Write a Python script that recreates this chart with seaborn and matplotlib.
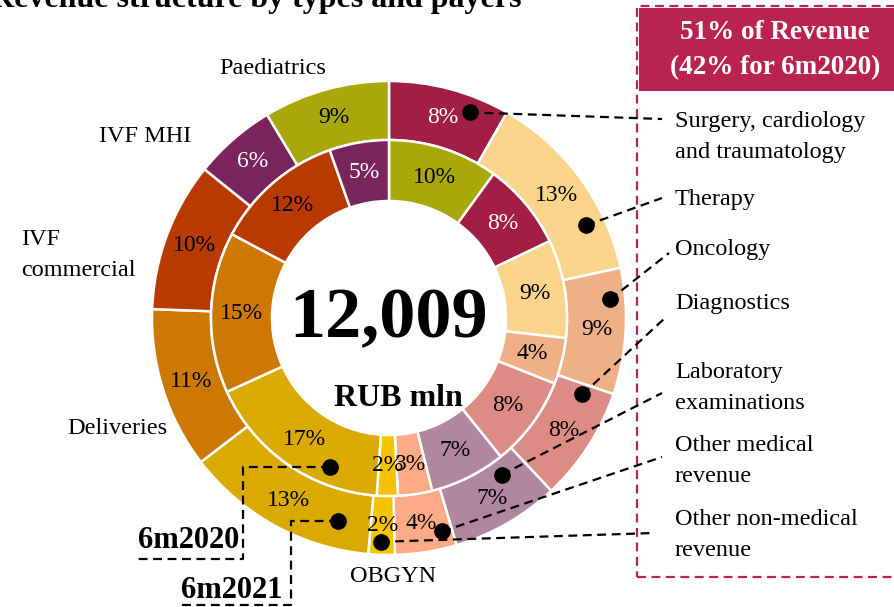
import numpy as np
import pandas as pd
import matplotlib
matplotlib.use("Agg")
import matplotlib.pyplot as plt
from matplotlib.patches import Rectangle
import seaborn as sns

# ---------------- data ----------------
categories = ["Surgery, cardiology\nand traumatology", "Therapy", "Oncology", "Diagnostics",
              "Laboratory\nexaminations", "Other medical\nrevenue", "Other non-medical\nrevenue",
              "OBGYN", "Deliveries", "IVF\ncommercial", "IVF MHI", "Paediatrics"]
share_6m2021 = [8.3, 13.3, 8.6, 7.8, 7.4, 4.2, 1.8, 13.2, 11.0, 10.2, 5.6, 8.6]
share_6m2020 = [7.9, 8.9, 4.2, 8.2, 6.9, 3.1, 1.9, 17.1, 14.6, 11.8, 5.4, 10.0]
total_revenue = "12,009"
unit_label = "RUB mln"
box_title = "51% of Revenue\n(42% for 6m2020)"
period_labels = ["6m2020", "6m2021"]
chart_title = "Revenue structure by types and payers"

palette = ["#A31E45", "#F9D48A", "#EFB088", "#DC8C84", "#AF879E", "#FDAA87",
           "#F6C300", "#DAAA00", "#CD7800", "#B93A00", "#7A245C", "#A8A80B"]
white_text = {"#A31E45", "#7A245C"}
CRIMSON = "#B8234F"

sns.set_theme(style="white")
plt.rcParams["font.family"] = ["Liberation Serif", "DejaVu Serif"]
plt.rcParams["text.color"] = "black"

W, H = 895, 607
fig = plt.figure(figsize=(W / 100, H / 100), dpi=100)
ax = fig.add_axes([0, 0, 1, 1])

def P(x, y):
    """image pixel coords -> data coords"""
    return (x, H - y)

cx, cy = P(389, 318)
R_out, R_mid, R_in = 237, 178, 117

df = pd.DataFrame({"cat": categories, "y2021": share_6m2021, "y2020": share_6m2020,
                   "color": list(sns.color_palette(palette).as_hex())})
df["color"] = palette
inner_df = pd.concat([df.iloc[[-1]], df.iloc[:-1]])  # inner ring starts with Paediatrics

wp = dict(edgecolor="white", linewidth=1.8)
w_out, _ = ax.pie(df["y2021"], colors=df["color"], radius=R_out, center=(cx, cy),
                  startangle=90, counterclock=False,
                  wedgeprops=dict(width=R_out - R_mid, **wp))
w_in, _ = ax.pie(inner_df["y2020"], colors=inner_df["color"], radius=R_mid, center=(cx, cy),
                 startangle=90, counterclock=False,
                 wedgeprops=dict(width=R_mid - R_in, **wp))

def polar(theta_deg, r):
    t = np.deg2rad(theta_deg)
    return cx + r * np.cos(t), cy + r * np.sin(t)

def wedge_point(w, frac, r):
    th = w.theta2 - frac * (w.theta2 - w.theta1)
    return polar(th, r)

pct_fs = 17
for w, v, c in zip(w_out, df["y2021"], df["color"]):
    x, y = wedge_point(w, 0.5, 208)
    ax.text(x, y, f"{v:.0f}%", ha="center", va="center", fontsize=pct_fs,
            color="white" if c in white_text else "black", zorder=5)
for w, v, c in zip(w_in, inner_df["y2020"], inner_df["color"]):
    x, y = wedge_point(w, 0.5, 148)
    ax.text(x, y, f"{v:.0f}%", ha="center", va="center", fontsize=pct_fs,
            color="white" if c in white_text else "black", zorder=5)

# centre text
ax.text(*P(389, 320), total_revenue, ha="center", va="center", fontsize=52,
        fontweight="bold")
ax.text(*P(398, 398), unit_label, ha="center", va="center", fontsize=23,
        fontweight="bold")

# title (cut at top)
ax.text(*P(-9, 7), chart_title, ha="left", va="baseline", fontsize=23, fontweight="bold")

# right box
ax.add_patch(Rectangle(P(637, 577), 300, 571, fill=False, edgecolor=CRIMSON,
                       linewidth=1.6, linestyle=(0, (4, 2.5)), zorder=1))
ax.add_patch(Rectangle(P(639, 91), 300, 83, facecolor=CRIMSON, edgecolor="none", zorder=2))
ax.text(*P(775, 50), box_title, ha="center", va="center", fontsize=19.5,
        fontweight="bold", color="white", linespacing=1.5, zorder=3)

dash = dict(color="black", linewidth=1.6, linestyle=(0, (4, 2.5)), zorder=6)
dot = dict(marker="o", markersize=11, color="black", zorder=7, linestyle="none")

lab_fs = 17.5
# right-side labels with leaders: (wedge frac, radius, line end, label centre y)
right = [
    (0.72, 221, (662, 119), 137),
    (0.73, 218, (662, 198), 200),
    (0.24, 222, (669, 253), 250),
    (0.10, 208, (665, 318), 304),
    (0.28, 193, (662, 393), 388),
    (0.17, 220, (662, 457), 461),
    (0.55, 224, (654, 533), 535),
]
for i, (frac, r, end, ly) in enumerate(right):
    x0, y0 = wedge_point(w_out[i], frac, r)
    x1, y1 = P(*end)
    ax.plot([x0, x1], [y0, y1], **dash)
    ax.plot([x0], [y0], **dot)
    ax.text(*P(675, ly), df["cat"][i], ha="left", va="center", fontsize=lab_fs,
            linespacing=1.65, zorder=5)

# left-side labels
ax.text(*P(273, 68), df["cat"][11], ha="center", va="center", fontsize=lab_fs)
ax.text(*P(145, 137), df["cat"][10], ha="center", va="center", fontsize=lab_fs)
ax.text(*P(21, 255), df["cat"][9], ha="left", va="center", fontsize=lab_fs, linespacing=1.65)
ax.text(*P(117, 428), df["cat"][8], ha="center", va="center", fontsize=lab_fs)
ax.text(*P(393, 577), df["cat"][7], ha="center", va="center", fontsize=lab_fs)

# period markers
ob_in = w_in[list(inner_df["cat"]).index("OBGYN")]
x0, y0 = wedge_point(ob_in, 0.29, 160)
xs = [x0, P(243, 0)[0], P(243, 0)[0], P(135, 0)[0]]
ys = [y0, y0, P(0, 559)[1], P(0, 559)[1]]
ax.plot(xs, ys, **dash)
ax.plot([x0], [y0], **dot)
ax.text(*P(239, 541), period_labels[0], ha="right", va="center", fontsize=22,
        fontweight="bold")

x0, y0 = wedge_point(w_out[7], 0.19, 209)
xs = [x0, P(291, 0)[0], P(291, 0)[0], P(180, 0)[0]]
ys = [y0, y0, P(0, 605)[1], P(0, 605)[1]]
ax.plot(xs, ys, **dash)
ax.plot([x0], [y0], **dot)
ax.text(*P(283, 590), period_labels[1], ha="right", va="center", fontsize=22,
        fontweight="bold")

ax.set_xlim(0, W)
ax.set_ylim(0, H)
ax.set_aspect("auto")
ax.axis("off")
fig.savefig("out.png", dpi=100)
